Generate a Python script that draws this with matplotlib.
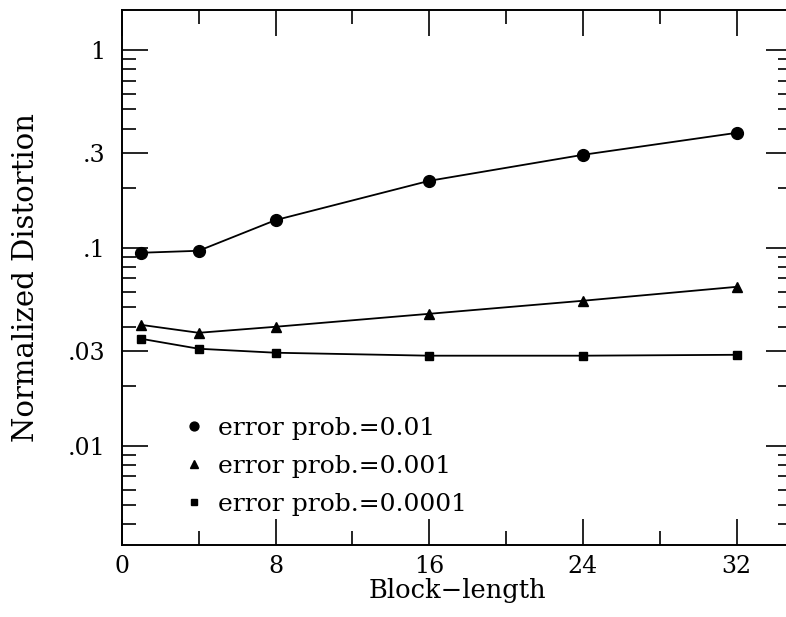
import matplotlib
matplotlib.use("Agg")
import matplotlib.pyplot as plt
from matplotlib.ticker import FixedLocator, LogLocator, NullFormatter

# Block lengths and normalized distortion for each channel error probability
block_length = [1, 4, 8, 16, 24, 32]
dist_p01 = [0.0944, 0.0966, 0.138, 0.218, 0.295, 0.381]
dist_p001 = [0.0408, 0.0372, 0.0399, 0.0464, 0.054, 0.0635]
dist_p0001 = [0.0347, 0.0309, 0.0295, 0.0285, 0.0285, 0.0288]

series_labels = ["error prob.=0.01", "error prob.=0.001", "error prob.=0.0001"]

y_tick_values = [0.01, 0.03, 0.1, 0.3, 1]
y_tick_labels = [".01", ".03", ".1", ".3", "1"]
x_tick_values = [0, 8, 16, 24, 32]

plt.rcParams["font.family"] = ["DejaVu Serif"]

fig = plt.figure(figsize=(7.86, 6.17), dpi=100)
# the frame runs just past the right edge of the canvas
ax = fig.add_axes([0.155, 0.1167, 0.853, 0.8679])

style = dict(color="black", linewidth=1.3)
ax.plot(block_length, dist_p01, marker="o", markersize=8.5, label=series_labels[0], **style)
ax.plot(block_length, dist_p001, marker="^", markersize=7, label=series_labels[1], **style)
ax.plot(block_length, dist_p0001, marker="s", markersize=5.5, label=series_labels[2], **style)

ax.set_yscale("log")
ax.set_xlim(0, 34.9)
ax.set_ylim(0.00315, 1.6)

ax.yaxis.set_major_locator(FixedLocator(y_tick_values))
ax.set_yticklabels(y_tick_labels)
ax.yaxis.set_minor_locator(LogLocator(base=10, subs=(2, 4, 5, 6, 7, 8, 9)))
ax.yaxis.set_minor_formatter(NullFormatter())

ax.xaxis.set_major_locator(FixedLocator(x_tick_values))
ax.set_xticklabels([str(v) for v in x_tick_values])
ax.xaxis.set_minor_locator(FixedLocator([4, 12, 20, 28]))

ax.tick_params(which="both", direction="in", top=True, right=True,
               width=1.2, labelsize=17)
ax.tick_params(which="major", length=19)
ax.tick_params(which="minor", length=10)
ax.tick_params(axis="y", which="major", pad=12)
ax.tick_params(axis="x", which="major", pad=7)

for sp in ax.spines.values():
    sp.set_linewidth(1.4)

ax.set_xlabel("Block\u2212length", fontsize=18.5, labelpad=0)
ax.set_ylabel("Normalized Distortion", fontsize=21, labelpad=20)

leg = ax.legend(loc="lower left", bbox_to_anchor=(0.086, 0.036), frameon=False,
                fontsize=18, handlelength=0.4, handletextpad=0.75,
                labelspacing=0.6, borderaxespad=0, markerscale=0.75)
for h in leg.legend_handles:
    h.set_linestyle("none")

fig.savefig("out.png", dpi=100)
